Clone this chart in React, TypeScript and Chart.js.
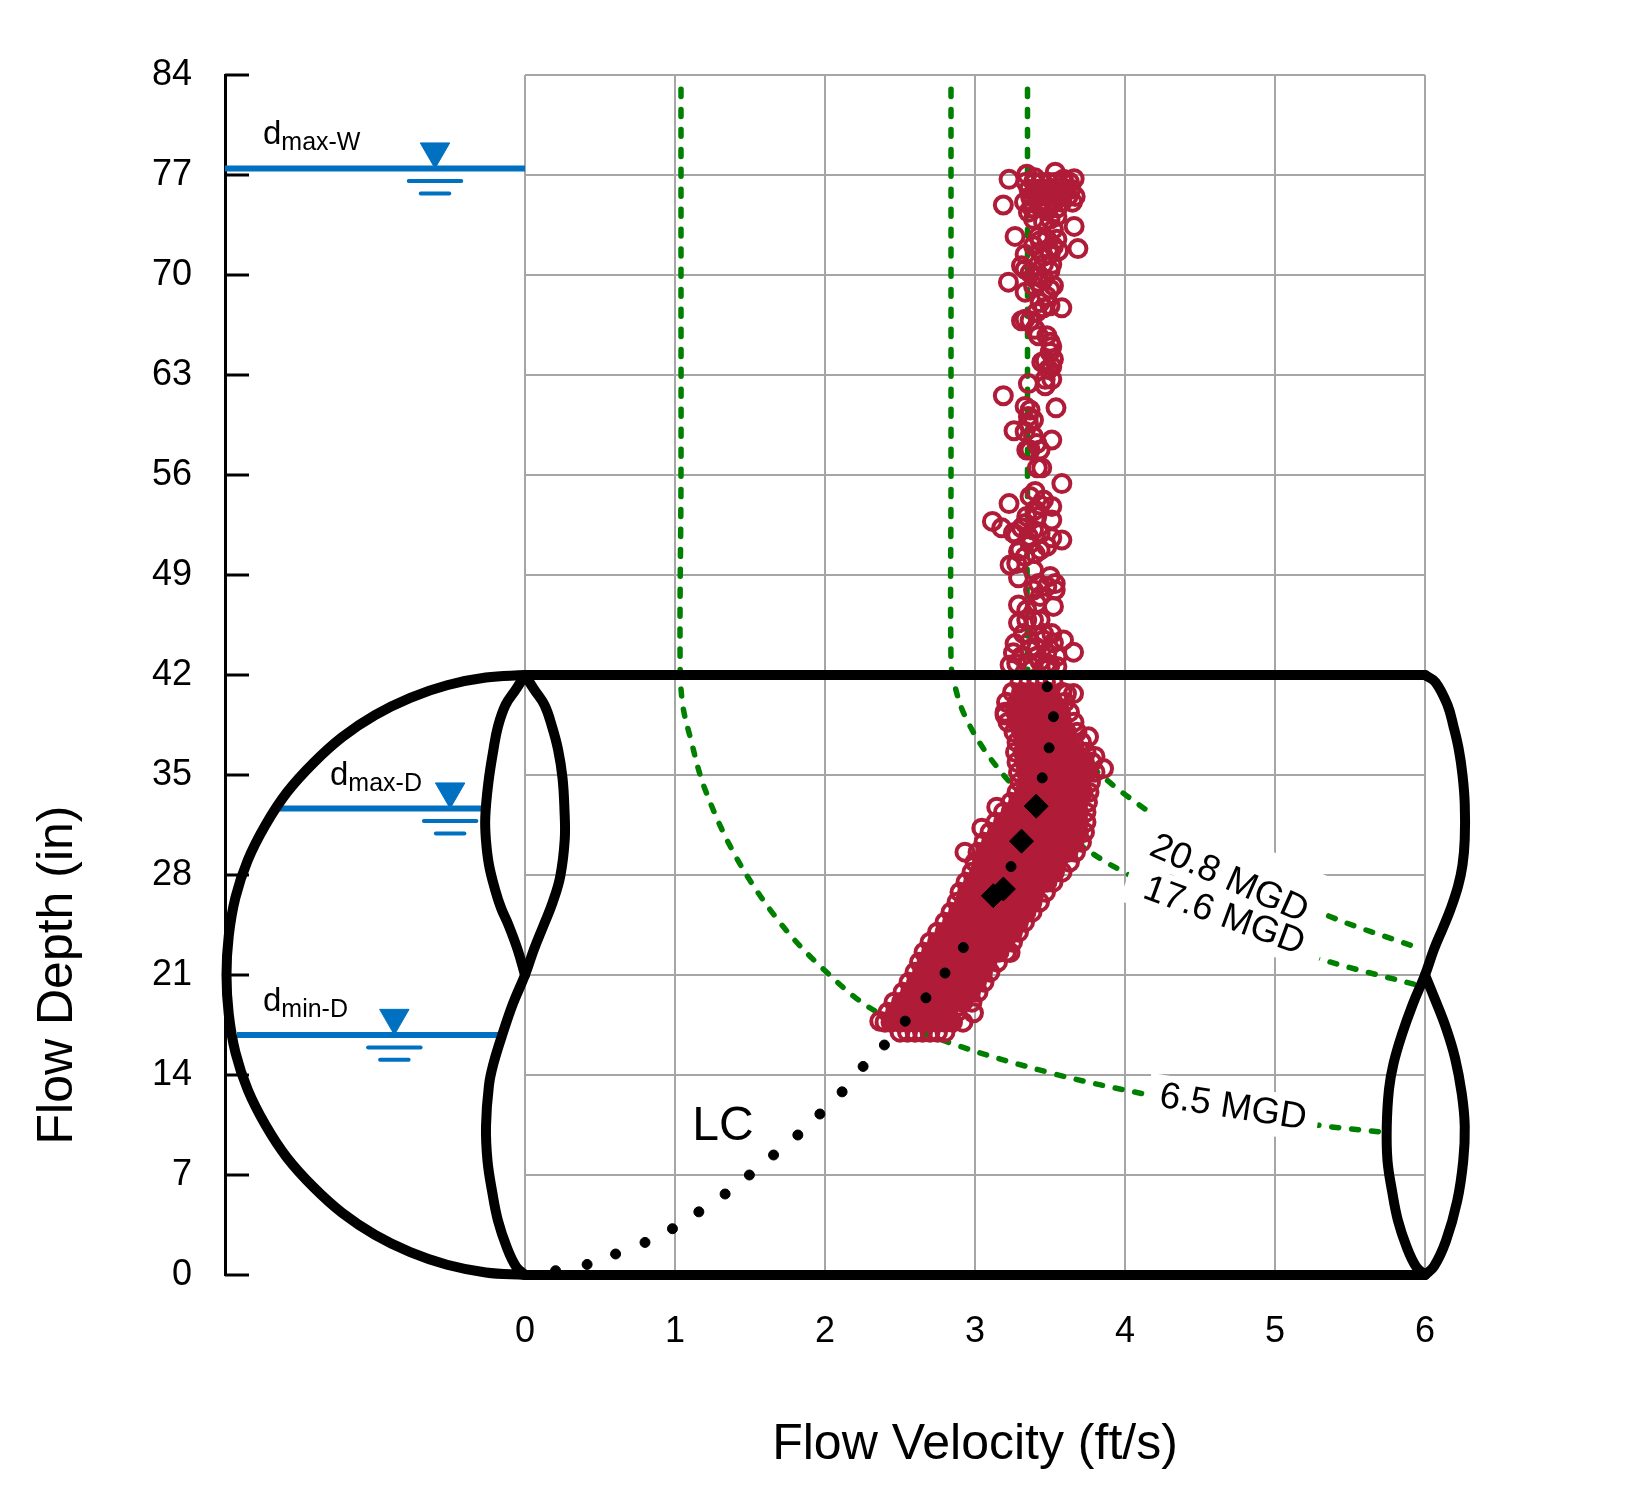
import React, { useEffect, useRef } from "react";
import { Chart, registerables } from "chart.js";

Chart.register(...registerables);

const FONT = '"Liberation Sans", Arial, sans-serif';
const RED = "#B01C38";
const GREEN = "#008000";
const BLUE = "#0070C0";
const GRID = "#A6A6A6";

const xTickValues = [0, 1, 2, 3, 4, 5, 6];
const yTickValues = [0, 7, 14, 21, 28, 35, 42, 49, 56, 63, 70, 77, 84];

type P = [number, number];

// Pipe outline [velocity axis, depth]
const pipeTop: P[] = [[0, 42], [6, 42]];
const pipeBottom: P[] = [[0, 0], [6, 0]];
const pipeCircle: P[] = [
  [0, 42], [-0.261, 41.82], [-0.52, 41.28], [-0.765, 40.4], [-1.0, 39.19], [-1.218, 37.66], [-1.41, 35.85],
  [-1.587, 33.78], [-1.73, 31.5], [-1.848, 29.04], [-1.93, 26.44], [-1.975, 23.74], [-1.99, 21],
  [-1.975, 18.26], [-1.93, 15.56], [-1.848, 12.96], [-1.73, 10.5], [-1.587, 8.22], [-1.41, 6.15],
  [-1.218, 4.34], [-1.0, 2.81], [-0.765, 1.6], [-0.52, 0.72], [-0.261, 0.18], [0, 0],
];
const leftFrontWave: P[] = [
  [0, 42], [0.06, 41], [0.13, 39.9], [0.18, 38.4], [0.22, 36.8], [0.25, 34.8], [0.263, 32.6], [0.265, 30.5], [0.235, 27.9],
  [0.185, 26.1], [0.125, 24.5], [0.06, 22.8], [0, 21],
  [-0.08, 19], [-0.155, 16.7], [-0.21, 14.8], [-0.24, 13.3], [-0.26, 10.4], [-0.25, 8], [-0.22, 5.9], [-0.18, 3.8], [-0.12, 1.9],
  [-0.06, 0.6], [0, 0],
];
const leftBackLobe: P[] = [
  [0, 42], [-0.06, 41], [-0.13, 39.9], [-0.18, 38.4], [-0.21, 36.8], [-0.245, 34.4], [-0.265, 32], [-0.26, 30.4], [-0.24, 28.7],
  [-0.2, 27], [-0.16, 25.7], [-0.11, 24.5], [-0.05, 22.8], [0, 21],
];
const rightFrontWave: P[] = [
  [6, 42], [6.07, 41.5], [6.15, 39.9], [6.19, 38.4], [6.225, 36.8], [6.25, 35], [6.265, 33], [6.265, 30.5], [6.25, 28.7],
  [6.22, 27.2], [6.17, 25.6], [6.12, 24.3], [6.06, 22.8], [6, 21],
  [5.92, 19], [5.845, 16.8], [5.79, 14.8], [5.76, 13], [5.745, 10.4], [5.75, 8], [5.78, 5.9], [5.82, 3.8], [5.88, 1.9], [5.94, 0.6], [6, 0],
];
const rightLowerLobe: P[] = [
  [6, 21], [6.07, 19.2], [6.14, 17.3], [6.2, 15.2], [6.245, 12.7], [6.265, 10.4], [6.255, 8], [6.215, 5.2], [6.14, 2.4], [6.06, 0.6], [6, 0],
];

// Constant flow curves
const flow65: P[] = [
  [1.04, 83], [1.04, 70], [1.04, 56], [1.034, 43], [1.05, 40], [1.1, 37.7], [1.2, 34], [1.41, 29.2], [1.69, 24.8],
  [1.98, 21.5], [2.33, 18.5], [2.82, 16.3], [3.52, 14.1], [4.16, 12.6], [4.72, 11.5], [5.28, 10.5], [5.72, 10],
];
const flow176: P[] = [
  [2.84, 83], [2.84, 70], [2.84, 56], [2.84, 43], [2.86, 41.5], [2.93, 39.2], [3.1, 36.2], [3.37, 33], [3.73, 29.9],
  [4.01, 28.1], [4.6, 25], [5.25, 22.3], [5.98, 20.2],
];
const flow208: P[] = [
  [3.35, 83], [3.35, 70], [3.35, 56], [3.35, 43], [3.37, 41.5], [3.52, 38.4], [3.84, 35], [4.19, 32.2],
  [4.75, 28.3], [5.32, 25.3], [5.98, 22.8],
];

// Sparse part of the measured cloud (velocity, depth)
const sparseVelocity = [
  3.227, 3.661, 3.189, 3.668, 3.661, 3.686, 3.267, 3.345, 3.40, 3.535, 3.59, 3.356, 3.479, 3.546, 3.457, 3.523, 3.479,
  3.434, 3.523, 3.501, 3.434, 3.557, 3.334, 3.512, 3.457, 3.334, 3.39, 3.223, 3.334, 3.423, 3.501, 3.457, 3.479, 3.579,
  3.457, 3.334, 3.367, 3.40, 3.501, 3.512, 3.468, 3.512, 3.49, 3.468, 3.356, 3.189, 3.367, 3.54, 3.356, 3.39, 3.26,
  3.334, 3.39, 3.512, 3.367, 3.434, 3.416, 3.445, 3.579, 3.401, 3.227, 3.512, 3.434, 3.40, 3.512, 3.116, 3.178, 3.334,
  3.31, 3.278, 3.39, 3.579, 3.512, 3.30, 3.434, 3.367, 3.234, 3.278, 3.29, 3.39, 3.29, 3.535, 3.535, 3.423, 3.479,
  3.434, 3.523, 3.29, 3.345, 3.29, 3.39, 3.434, 3.512, 3.59, 3.657, 3.267, 3.367, 3.523, 3.256, 3.31, 3.412, 3.479,
  3.546, 3.234, 3.356, 3.434, 3.50, 3.546, 2.933, 3.045, 3.145, 3.757, 3.80, 3.857, 3.657, 3.61, 3.2, 2.99, 2.365, 3.234,
  3.34, 3.39, 3.44, 3.49, 3.54, 3.59, 3.63, 3.36, 3.41, 3.46, 3.51, 3.56, 3.61, 3.64, 3.37, 3.42, 3.47, 3.52, 3.57, 3.62,
  3.33, 3.38, 3.43, 3.48, 3.53, 3.58, 3.65, 3.38, 3.44, 3.49, 3.55,
  3.39, 3.5, 3.423, 3.546, 3.39, 3.49, 3.457, 3.31, 3.367, 3.423, 3.5, 3.39, 3.523, 3.434, 3.5, 3.412, 3.31, 3.423, 3.479,
  3.5, 3.445, 3.523, 3.512, 3.468, 3.334, 3.356, 3.345, 3.412, 3.367, 3.457, 3.345, 3.412, 3.256, 3.356, 3.434, 3.479,
  3.334, 3.401, 3.501, 3.39, 3.412, 3.345, 3.457, 3.323, 3.367, 3.278, 3.457, 3.412, 3.479,
];
const sparseDepth = [
  76.7, 76.74, 74.9, 75.5, 73.4, 71.85, 72.7, 77.05, 76.8, 77.2, 76.7, 74.4, 74.5, 74.1, 73.7, 73.2, 72.5, 72.4, 72.0,
  71.45, 71.6, 71.7, 71.45, 70.75, 70.75, 70.4, 69.9, 69.5, 68.8, 69.5, 69, 69.7, 68.5, 67.7, 67.7, 66.9, 66.8, 66.2,
  65.3, 65, 64, 63.6, 63.4, 62.25, 62.4, 61.55, 60.55, 60.7, 60.1, 59.85, 59.1, 59.04, 58.7, 58.45, 57.75, 57.75, 56.5,
  56.5, 55.4, 54.85, 54.0, 53.8, 53.9, 53.55, 52.85, 52.75, 52.3, 52.6, 52.3, 51.8, 52.15, 51.45, 51.6, 50.75, 50.75,
  51.2, 49.7, 49.8, 50.65, 49.35, 48.8, 48.4, 47.95, 48.4, 48.2, 47.5, 46.8, 46.9, 46.55, 45.65, 45.85, 45.85, 44.9,
  44.45, 43.6, 44.2, 44.35, 44.25, 43.55, 43.3, 43.9, 43.55, 43.3, 42.7, 42.8, 42.95, 42.7, 42.6, 29.6, 31.28, 32.75,
  37.67, 36.3, 35.45, 40.7, 40.7, 39.2, 18.35, 17.77, 22.57,
  76.5, 76.5, 76.5, 76.5, 76.5, 76.5, 76.5, 76, 76, 76, 76, 76, 76, 76, 75.5, 75.5, 75.5, 75.5, 75.5, 75.5,
  75.1, 75.1, 75.1, 75.1, 75.1, 75.1, 75.1, 74.7, 74.7, 74.7, 74.7,
  73.9, 73.9, 72.7, 72.5, 72.05, 71.8, 71.3, 70.65, 70.15, 69.95, 70.3, 69.25, 69.25, 68.07, 67.85, 67.4, 66.8, 65.75, 65.75,
  64.6, 63.9, 64.1, 62.7, 62.7, 60.8, 59.6, 57.75, 58.2, 54.5, 54.25, 53.1, 53.1, 51.95, 51.7, 51.9, 51,
  50.3, 50.5, 48.9, 47.95, 47, 45.85, 44.9, 44.9, 43.75, 42.8, 44.45, 43.3, 42.8,
];

// Dense part of the measured cloud: one velocity list per depth
const denseDepth = [
  17.0, 17.7, 18.4, 19.1, 19.8, 20.5, 21.2, 21.9, 22.6, 23.3, 24.0, 24.7, 25.4, 26.1, 26.8, 27.5, 28.2, 28.9,
  29.6, 30.3, 31.0, 31.7, 32.4, 33.1, 33.8, 34.5, 35.2, 35.9, 36.6, 37.3, 38.0, 38.7, 39.4, 40.1, 40.8, 41.5,
];
const denseVelocity = [
  [2.5, 2.55, 2.6, 2.65, 2.7, 2.75, 2.8],
  [2.4, 2.44, 2.5, 2.55, 2.6, 2.65, 2.7, 2.75, 2.8, 2.85, 2.92],
  [2.42, 2.47, 2.52, 2.57, 2.62, 2.67, 2.72, 2.77, 2.82, 2.88],
  [2.46, 2.51, 2.56, 2.61, 2.66, 2.71, 2.76, 2.81, 2.86, 2.92, 2.98],
  [2.52, 2.57, 2.62, 2.67, 2.72, 2.77, 2.82, 2.87, 2.92, 2.97, 3.02],
  [2.56, 2.61, 2.66, 2.71, 2.76, 2.81, 2.86, 2.91, 2.96, 3.01, 3.06],
  [2.6, 2.65, 2.7, 2.75, 2.8, 2.85, 2.9, 2.95, 3.0, 3.05, 3.1],
  [2.63, 2.68, 2.73, 2.78, 2.83, 2.88, 2.93, 2.98, 3.03, 3.08, 3.15],
  [2.66, 2.71, 2.76, 2.81, 2.86, 2.91, 2.96, 3.01, 3.06, 3.11, 3.16, 3.21],
  [2.7, 2.75, 2.8, 2.85, 2.9, 2.95, 3.0, 3.05, 3.1, 3.15, 3.2, 3.25],
  [2.75, 2.8, 2.85, 2.9, 2.95, 3.0, 3.05, 3.1, 3.15, 3.2, 3.25, 3.29],
  [2.8, 2.85, 2.9, 2.95, 3.0, 3.05, 3.1, 3.15, 3.2, 3.25, 3.29, 3.33],
  [2.84, 2.89, 2.94, 2.99, 3.04, 3.09, 3.14, 3.19, 3.24, 3.29, 3.34, 3.38],
  [2.88, 2.93, 2.98, 3.03, 3.08, 3.13, 3.18, 3.23, 3.28, 3.33, 3.38, 3.43],
  [2.9, 2.95, 3.0, 3.05, 3.1, 3.15, 3.2, 3.25, 3.3, 3.35, 3.4, 3.47],
  [2.94, 2.99, 3.04, 3.09, 3.14, 3.19, 3.24, 3.29, 3.34, 3.39, 3.44, 3.48, 3.52],
  [2.98, 3.03, 3.08, 3.13, 3.18, 3.23, 3.28, 3.33, 3.38, 3.43, 3.48, 3.53, 3.58],
  [3.0, 3.05, 3.1, 3.15, 3.2, 3.25, 3.3, 3.35, 3.4, 3.45, 3.5, 3.55, 3.63],
  [3.02, 3.07, 3.12, 3.17, 3.22, 3.27, 3.32, 3.37, 3.42, 3.47, 3.52, 3.57, 3.62, 3.67],
  [3.06, 3.11, 3.16, 3.21, 3.26, 3.31, 3.36, 3.41, 3.46, 3.51, 3.56, 3.61, 3.66, 3.71],
  [3.1, 3.15, 3.2, 3.25, 3.3, 3.35, 3.4, 3.45, 3.5, 3.55, 3.6, 3.65, 3.69, 3.73],
  [3.14, 3.19, 3.24, 3.29, 3.34, 3.39, 3.44, 3.49, 3.54, 3.59, 3.64, 3.69, 3.74],
  [3.19, 3.24, 3.29, 3.34, 3.39, 3.44, 3.49, 3.54, 3.59, 3.64, 3.69, 3.74],
  [3.24, 3.29, 3.34, 3.39, 3.44, 3.49, 3.54, 3.59, 3.64, 3.69, 3.75],
  [3.28, 3.33, 3.38, 3.43, 3.48, 3.53, 3.58, 3.63, 3.68, 3.72, 3.76],
  [3.3, 3.35, 3.4, 3.45, 3.5, 3.55, 3.6, 3.65, 3.7, 3.77],
  [3.29, 3.34, 3.39, 3.44, 3.49, 3.54, 3.59, 3.64, 3.69, 3.75, 3.8],
  [3.28, 3.33, 3.38, 3.43, 3.48, 3.53, 3.58, 3.63, 3.68, 3.73, 3.78],
  [3.27, 3.32, 3.37, 3.42, 3.47, 3.52, 3.57, 3.62, 3.67, 3.74],
  [3.28, 3.33, 3.38, 3.43, 3.48, 3.53, 3.58, 3.63, 3.71],
  [3.26, 3.31, 3.36, 3.41, 3.46, 3.51, 3.56, 3.61, 3.68],
  [3.22, 3.28, 3.34, 3.4, 3.46, 3.52, 3.58, 3.66],
  [3.2, 3.27, 3.33, 3.39, 3.45, 3.51, 3.57, 3.63],
  [3.21, 3.28, 3.34, 3.4, 3.46, 3.52, 3.6],
  [3.25, 3.31, 3.37, 3.43, 3.49, 3.58],
  [3.3, 3.36, 3.42, 3.47, 3.52],
];

// Critical-flow (LC) dots
const lcVelocity = [
  0.204, 0.414, 0.604, 0.8, 0.983, 1.159, 1.334, 1.496, 1.657, 1.819, 1.966, 2.114, 2.254, 2.396, 2.535, 2.673, 2.8,
  2.922, 3.24, 3.448, 3.494, 3.523, 3.481,
];
const lcDepth = [
  0.3, 0.74, 1.47, 2.28, 3.24, 4.42, 5.67, 7, 8.4, 9.8, 11.27, 12.82, 14.6, 16.1, 17.77, 19.4, 21.14, 22.92, 28.59,
  34.8, 36.9, 39.08, 41.18,
];
const coveredLc: P[] = [[3.033, 24.74]];
const diamondVelocity = [3.408, 3.31, 3.189, 3.122];
const diamondDepth = [32.82, 30.37, 27.02, 26.55];

// Water levels
const levelWet: P[] = [[-2, 77.45], [0, 77.45]];
const levelMaxDry: P[] = [[-1.64, 32.65], [-0.28, 32.65]];
const levelMinDry: P[] = [[-1.92, 16.8], [-0.18, 16.8]];
const levelMarks = [
  { v: -0.6, d: 77.45 },
  { v: -0.499, d: 32.65 },
  { v: -0.871, d: 16.8 },
];

const toXY = (pts: P[]) => pts.map(([x, y]) => ({ x, y }));
const zip = (xs: number[], ys: number[]) => xs.map((x, i) => ({ x, y: ys[i] }));
const lastRow = denseDepth.length - 1;
const denseEdge = denseDepth.flatMap((d, i) =>
  denseVelocity[i]
    .filter((_, j) => i === 0 || i === lastRow || j === 0 || j === denseVelocity[i].length - 1)
    .map((v) => ({ x: v, y: d })),
);
const denseInner = denseDepth.flatMap((d, i) =>
  denseVelocity[i]
    .filter((_, j) => !(i === 0 || i === lastRow || j === 0 || j === denseVelocity[i].length - 1))
    .map((v) => ({ x: v, y: d })),
);
const cloud = [...zip(sparseVelocity, sparseDepth), ...denseEdge];

const outline = (pts: P[]) => ({
  data: toXY(pts),
  showLine: true,
  borderColor: "#000",
  borderWidth: 10,
  borderCapStyle: "round",
  borderJoinStyle: "round",
  tension: 0.4,
  pointRadius: 0,
  clip: false,
});
const flowLine = (pts: P[]) => ({
  data: toXY(pts),
  showLine: true,
  borderColor: GREEN,
  borderWidth: 5.5,
  borderCapStyle: "round",
  borderDash: [7, 13],
  tension: 0.35,
  pointRadius: 0,
  clip: false,
});
const level = (pts: P[]) => ({
  data: toXY(pts),
  showLine: true,
  borderColor: BLUE,
  borderWidth: 6,
  pointRadius: 0,
  clip: false,
});
const rule = (v: number, half: number, d: number) => ({
  data: [{ x: v - half, y: d }, { x: v + half, y: d }],
  showLine: true,
  borderColor: BLUE,
  borderWidth: 4,
  borderCapStyle: "round",
  pointRadius: 0,
  clip: false,
});

const flowLabels = [
  { text: "20.8 MGD", v: 4.693, d: 27.7, angle: 24, w: 200, h: 62, up: 12 },
  { text: "17.6 MGD", v: 4.66, d: 25.1, angle: 20, w: 208, h: 42, up: 0 },
  { text: "6.5 MGD", v: 4.72, d: 11.7, angle: 8.8, w: 172, h: 44, up: 0 },
];
const levelLabels = [
  { base: "d", sub: "max-W", v: -1.747, d: 79.2 },
  { base: "d", sub: "max-D", v: -1.3, d: 34.3 },
  { base: "d", sub: "min-D", v: -1.747, d: 18.5 },
];
const axisTitles = [
  { text: "Flow Velocity (ft/s)", v: 3, d: -11.9, angle: 0 },
  { text: "Flow Depth (in)", v: -3.115, d: 21, angle: -90 },
];
const lcLabel = { text: "LC", v: 1.32, d: 10.4 };

const gridPlugin = {
  id: "pipeGrid",
  beforeDatasetsDraw(chart: any) {
    const { ctx } = chart;
    const x = chart.scales.x;
    const y = chart.scales.y;
    ctx.save();
    ctx.strokeStyle = GRID;
    ctx.lineWidth = 2;
    for (const d of yTickValues) {
      ctx.beginPath();
      ctx.moveTo(x.getPixelForValue(0), y.getPixelForValue(d));
      ctx.lineTo(x.getPixelForValue(6), y.getPixelForValue(d));
      ctx.stroke();
    }
    for (const v of xTickValues) {
      ctx.beginPath();
      ctx.moveTo(x.getPixelForValue(v), y.getPixelForValue(0));
      ctx.lineTo(x.getPixelForValue(v), y.getPixelForValue(84));
      ctx.stroke();
    }
    ctx.strokeStyle = "#000";
    ctx.lineWidth = 3;
    for (const d of yTickValues) {
      ctx.beginPath();
      ctx.moveTo(x.left, y.getPixelForValue(d));
      ctx.lineTo(x.left + 24, y.getPixelForValue(d));
      ctx.stroke();
    }
    ctx.restore();
  },
};

const textPlugin = {
  id: "chartTexts",
  afterDatasetsDraw(chart: any) {
    const { ctx } = chart;
    const x = chart.scales.x;
    const y = chart.scales.y;
    ctx.save();
    ctx.fillStyle = "#fff";
    for (const l of flowLabels) {
      ctx.save();
      ctx.translate(x.getPixelForValue(l.v), y.getPixelForValue(l.d));
      ctx.rotate((l.angle * Math.PI) / 180);
      ctx.fillRect(-l.w / 2, -l.h / 2 - l.up, l.w, l.h);
      ctx.restore();
    }
    ctx.fillStyle = "#000";
    ctx.textAlign = "center";
    ctx.textBaseline = "middle";
    for (const l of flowLabels) {
      ctx.save();
      ctx.translate(x.getPixelForValue(l.v), y.getPixelForValue(l.d));
      ctx.rotate((l.angle * Math.PI) / 180);
      ctx.font = `37px ${FONT}`;
      ctx.fillText(l.text, 0, 0);
      ctx.restore();
    }
    ctx.font = `48px ${FONT}`;
    ctx.fillText(lcLabel.text, x.getPixelForValue(lcLabel.v), y.getPixelForValue(lcLabel.d));
    ctx.font = `50px ${FONT}`;
    for (const t of axisTitles) {
      ctx.save();
      ctx.translate(x.getPixelForValue(t.v), y.getPixelForValue(t.d));
      ctx.rotate((t.angle * Math.PI) / 180);
      ctx.fillText(t.text, 0, 0);
      ctx.restore();
    }
    ctx.textAlign = "left";
    ctx.textBaseline = "alphabetic";
    for (const l of levelLabels) {
      const px = x.getPixelForValue(l.v);
      const py = y.getPixelForValue(l.d);
      ctx.font = `33px ${FONT}`;
      ctx.fillText(l.base, px, py);
      const w = ctx.measureText(l.base).width;
      ctx.font = `25px ${FONT}`;
      ctx.fillText(l.sub, px + w, py + 6);
    }
    ctx.restore();
  },
};

export default function App() {
  const ref = useRef<HTMLCanvasElement>(null);
  useEffect(() => {
    document.body.style.margin = "0";
    const chart = new Chart(ref.current as HTMLCanvasElement, {
      type: "scatter",
      data: {
        // first listed is painted last
        datasets: [
          outline(pipeTop),
          outline(pipeBottom),
          outline(pipeCircle),
          outline(leftFrontWave),
          outline(leftBackLobe),
          outline(rightFrontWave),
          outline(rightLowerLobe),
          {
            data: zip(diamondVelocity, diamondDepth),
            pointStyle: "rectRot",
            pointRadius: 12,
            backgroundColor: "#000",
            borderColor: "#000",
            clip: false,
          },
          {
            data: zip(lcVelocity, lcDepth),
            pointRadius: 5,
            backgroundColor: "#000",
            borderColor: "#000",
            clip: false,
          },
          {
            data: denseInner,
            pointRadius: 8.5,
            pointBorderWidth: 4,
            pointBorderColor: RED,
            pointBackgroundColor: RED,
            clip: false,
          },
          {
            data: cloud,
            pointRadius: 8.5,
            pointBorderWidth: 4,
            pointBorderColor: RED,
            pointBackgroundColor: "rgba(0,0,0,0)",
            clip: false,
          },
          {
            data: toXY(coveredLc),
            pointRadius: 5,
            backgroundColor: "#000",
            borderColor: "#000",
            clip: false,
          },
          flowLine(flow65),
          flowLine(flow176),
          flowLine(flow208),
          level(levelWet),
          level(levelMaxDry),
          level(levelMinDry),
          ...levelMarks.flatMap((m) => [
            {
              data: [{ x: m.v, y: m.d + 1.2 }],
              pointStyle: "triangle",
              rotation: 180,
              pointRadius: 17,
              backgroundColor: BLUE,
              borderColor: BLUE,
              clip: false,
            },
            rule(m.v, 0.175, m.d - 0.87),
            rule(m.v, 0.095, m.d - 1.74),
          ]),
        ] as any,
      },
      options: {
        animation: false,
        responsive: false,
        devicePixelRatio: 1,
        layout: { padding: { left: 0, right: 166, top: 75, bottom: 0 } },
        plugins: { legend: { display: false }, tooltip: { enabled: false }, title: { display: false } },
        scales: {
          x: {
            type: "linear",
            min: -2,
            max: 6.4,
            grid: { display: false },
            border: { display: false },
            afterFit(s: any) {
              s.height = 226;
            },
            afterBuildTicks(s: any) {
              s.ticks = xTickValues.map((value) => ({ value }));
            },
            ticks: {
              autoSkip: false,
              maxRotation: 0,
              padding: 27,
              color: "#000",
              font: { family: FONT, size: 36 },
            },
          },
          y: {
            type: "linear",
            min: 0,
            max: 84,
            grid: { display: false },
            border: { display: true, color: "#000", width: 3 },
            afterFit(s: any) {
              s.width = 225;
            },
            afterBuildTicks(s: any) {
              s.ticks = yTickValues.map((value) => ({ value }));
            },
            ticks: {
              autoSkip: false,
              padding: 25,
              color: "#000",
              font: { family: FONT, size: 36 },
            },
          },
        },
      } as any,
      plugins: [gridPlugin, textPlugin] as any,
    });
    return () => chart.destroy();
  }, []);
  return <canvas ref={ref} width={1651} height={1501} style={{ display: "block" }} />;
}
